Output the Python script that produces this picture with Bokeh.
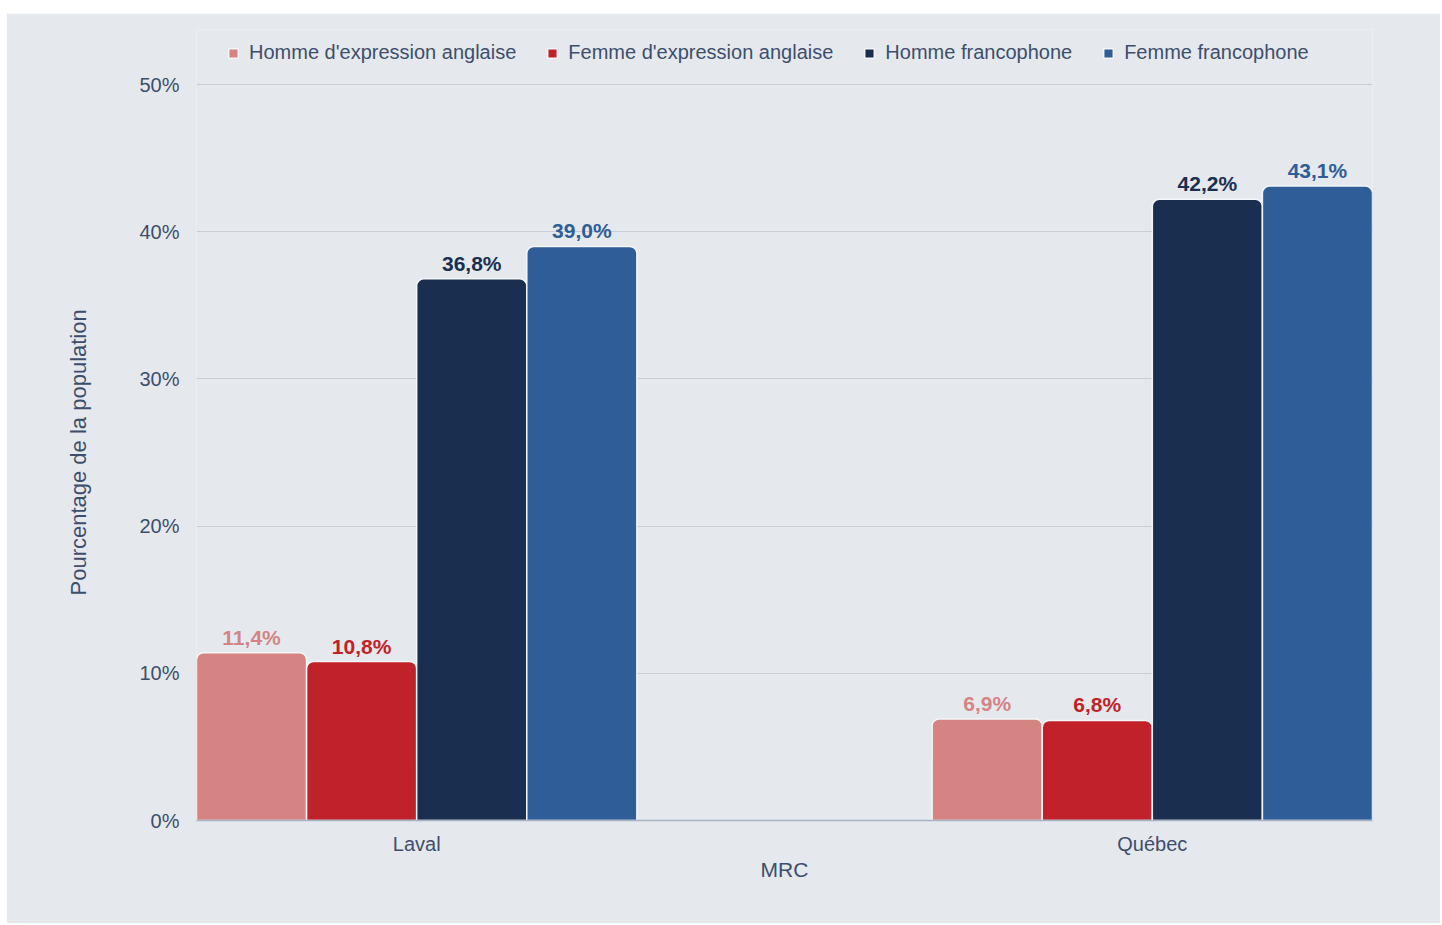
from bokeh.plotting import figure
from bokeh.models import ColumnDataSource, FixedTicker, Legend, LegendItem, Title
from bokeh.core.properties import value
from bokeh.embed import file_html
from bokeh.resources import INLINE

regions = ["Laval", "Québec"]
series = ["Homme d'expression anglaise", "Femme d'expression anglaise",
          "Homme francophone", "Femme francophone"]
homme_anglais = [11.4, 6.9]
femme_anglais = [10.8, 6.8]
homme_franco = [36.8, 42.2]
femme_franco = [39.0, 43.1]
values = [homme_anglais, femme_anglais, homme_franco, femme_franco]
colors = ["#d68384", "#c1222a", "#1a2f50", "#2e5d98"]
y_ticks = [0, 10, 20, 30, 40, 50]

BG = "#e5e9ee"
TXT = "#3d4e6c"
FONT = "Liberation Sans"

group_half = 220 / 735
bar_w = group_half / 2
offsets = [-1.5 * bar_w, -0.5 * bar_w, 0.5 * bar_w, 1.5 * bar_w]

# frame: 736 px for 0..50 %, extended 55 px upwards to hold the legend
px_per_unit = 736 / 50
y_top = 50 + 55 / px_per_unit

p = figure(width=1434, height=910, output_backend="svg", toolbar_location=None,
           x_range=(-group_half, 1 + group_half), y_range=(0, y_top),
           min_border_left=190, min_border_right=68, min_border_top=16, min_border_bottom=103)
p.margin = (13, 0, 0, 6)
p.background_fill_color = BG
p.border_fill_color = BG
p.outline_line_color = None

items = []
for i, (name, vals, col) in enumerate(zip(series, values, colors)):
    xs = [k + offsets[i] for k in range(len(regions))]
    labels = [f"{v:.1f}%".replace(".", ",") for v in vals]
    src = ColumnDataSource(dict(x=xs, top=vals, label=labels))
    r = p.vbar(x="x", top="top", width=bar_w, source=src, fill_color=col,
               line_color="#f4f6f8", line_width=1.5, border_radius=(7, 7, 0, 0))
    p.text(x="x", y="top", text="label", source=src, text_align="center",
           text_baseline="bottom", y_offset=-4, text_color=col,
           text_font=value(FONT), text_font_size="21px", text_font_style="bold")
    items.append(LegendItem(label=name, renderers=[r]))

legend = Legend(items=items, orientation="horizontal", location=(31, 756),
                background_fill_alpha=0, border_line_color=None, padding=0, margin=0,
                spacing=30, label_standoff=10, glyph_width=12, glyph_height=12,
                label_text_color=TXT, label_text_font=FONT, label_text_font_size="20px")
p.add_layout(legend, "center")

p.xaxis.ticker = FixedTicker(ticks=[0, 1])
p.xaxis.major_label_overrides = {0: regions[0], 1: regions[1]}
p.xaxis.axis_label = "MRC"
p.xaxis.axis_line_color = "#a9b2c2"
p.xaxis.axis_line_width = 1.5
p.xaxis.major_tick_line_color = None
p.xaxis.minor_tick_line_color = None
p.xaxis.major_tick_out = 0
p.xaxis.major_label_standoff = 12
p.xaxis.axis_label_standoff = 0

p.yaxis.ticker = FixedTicker(ticks=y_ticks)
p.yaxis.major_label_overrides = {t: f"{t}%" for t in y_ticks}
p.yaxis.axis_line_color = None
p.yaxis.major_tick_line_color = None
p.yaxis.minor_tick_line_color = None
p.yaxis.major_tick_out = 0
p.yaxis.major_label_standoff = 17

for ax in (p.xaxis, p.yaxis):
    ax.major_label_text_color = TXT
    ax.major_label_text_font = FONT
    ax.major_label_text_font_size = "20px"
    ax.axis_label_text_color = TXT
    ax.axis_label_text_font = FONT
    ax.axis_label_text_font_size = "21px"
    ax.axis_label_text_font_style = "normal"

# y-axis title, anchored to the 0 % baseline
ytitle = Title(text="Pourcentage de la population", align="left", offset=225,
               text_font=FONT, text_font_size="22px", text_font_style="normal",
               text_color=TXT, standoff=92)
p.add_layout(ytitle, "left")

p.xgrid.grid_line_color = None
p.ygrid.grid_line_color = "#c7ccd5"
p.ygrid.grid_line_width = 1

open("out.html", "w").write(file_html(p, INLINE))
